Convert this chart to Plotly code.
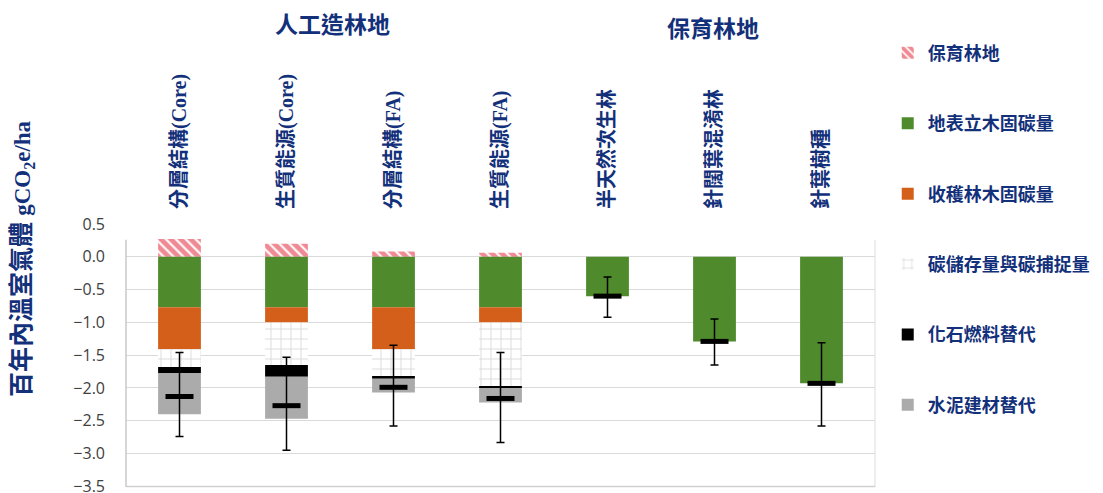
import plotly.graph_objects as go

categories = ["分層結構(Core)", "生質能源(Core)", "分層結構(FA)", "生質能源(FA)",
              "半天然次生林", "針闊葉混淆林", "針葉樹種"]
series_names = ["保育林地", "地表立木固碳量", "收穫林木固碳量", "碳儲存量與碳捕捉量",
                "化石燃料替代", "水泥建材替代"]
conservation = [0.27, 0.20, 0.08, 0.06, 0, 0, 0]
standing = [-0.77, -0.77, -0.77, -0.77, -0.60, -1.29, -1.93]
harvested = [-0.64, -0.23, -0.64, -0.23, 0, 0, 0]
storage = [-0.27, -0.65, -0.42, -0.98, 0, 0, 0]
fossil = [-0.09, -0.18, -0.03, -0.02, 0, 0, 0]
cement = [-0.63, -0.64, -0.21, -0.22, 0, 0, 0]
err_top = [-1.46, -1.53, -1.35, -1.46, -0.31, -0.95, -1.31]
err_bottom = [-2.74, -2.95, -2.58, -2.83, -0.92, -1.65, -2.58]
y_ticks = [0.5, 0.0, -0.5, -1.0, -1.5, -2.0, -2.5, -3.0, -3.5]
group_titles = ["人工造林地", "保育林地"]

NAVY = "#13307A"
CJK = "Liberation Serif, Noto Sans CJK TC"

series_values = [conservation, standing, harvested, storage, fossil, cement]
styles = [
    dict(color="white", pattern=dict(shape="\\", fgcolor="#E01428", bgcolor="white", size=7, solidity=0.7)),
    dict(color="#4F8B2C"),
    dict(color="#D45F1A"),
    dict(color="white", pattern=dict(shape="+", fgcolor="#A8A8A8", bgcolor="white", size=10, solidity=0.15)),
    dict(color="#000000"),
    dict(color="#ABABAB"),
]

fig = go.Figure()
for i, (name, vals, st) in enumerate(zip(series_names, series_values, styles)):
    fig.add_trace(go.Bar(
        x=categories, y=vals, name=name, width=0.4,
        marker=dict(line=dict(width=0), **st),
        legendgroup=f"g{i}",
    ))

net = [sum(v[j] for v in series_values) for j in range(len(categories))]
plus = [t - n for t, n in zip(err_top, net)]
minus = [n - b for n, b in zip(net, err_bottom)]
fig.add_trace(go.Scatter(
    x=categories, y=net, mode="markers", showlegend=False,
    marker=dict(symbol="line-ew", size=20, color="black", line=dict(width=5, color="black")),
    error_y=dict(type="data", symmetric=False, array=plus, arrayminus=minus,
                 color="black", thickness=1.5, width=4),
))

fig.update_layout(
    width=1103, height=493,
    margin=dict(l=126, r=228, t=224, b=6),
    barmode="relative",
    plot_bgcolor="white", paper_bgcolor="white",
    showlegend=True,
    legend=dict(x=1.017, y=1.72, xanchor="left", yanchor="top",
                tracegroupgap=44, traceorder="grouped", maxheight=480,
                font=dict(family=CJK, size=18, color=NAVY, weight="bold"),
                bgcolor="rgba(0,0,0,0)"),
    xaxis=dict(side="top", tickangle=-90, showgrid=False, zeroline=False, showline=False,
               ticks="", ticklabelstandoff=14, automargin=False,
               tickfont=dict(family=CJK, size=20, color=NAVY, weight="bold")),
    yaxis=dict(range=[-3.51, 0.5], tickvals=y_ticks, tickformat=".1f",
               showgrid=True, gridcolor="#DADADA", gridwidth=1,
               zeroline=False, showline=False, ticks="", ticklabelstandoff=20,
               ticklabeloverflow="allow", automargin=False,
               tickfont=dict(family="Open Sans, Liberation Sans", size=16, color="#404040")),
)

# frame lines
fig.add_shape(type="line", xref="paper", yref="y", x0=0, x1=0, y0=-3.51, y1=0.26,
              line=dict(color="#C8C8C8", width=1.5))
fig.add_shape(type="line", xref="paper", yref="y", x0=1, x1=1, y0=-3.51, y1=0.26,
              line=dict(color="#DDDDDD", width=1))
fig.add_shape(type="line", xref="paper", yref="paper", x0=0, x1=1, y0=0.002, y1=0.002,
              line=dict(color="#D0D0D0", width=1.5))

fig.add_annotation(text=group_titles[0], xref="paper", yref="paper", x=0.276, y=1.755,
                   xanchor="center", yanchor="middle", showarrow=False,
                   font=dict(family=CJK, size=23, color=NAVY, weight="bold"))
fig.add_annotation(text=group_titles[1], xref="paper", yref="paper", x=0.784, y=1.74,
                   xanchor="center", yanchor="middle", showarrow=False,
                   font=dict(family=CJK, size=23, color=NAVY, weight="bold"))
fig.add_annotation(text="百年內溫室氣體 <span style='font-size:23px'>gCO<sub>2</sub>e/ha</span>",
                   xref="paper", yref="paper",
                   x=-0.139, y=0.87, xanchor="center", yanchor="middle",
                   textangle=-90, showarrow=False,
                   font=dict(family=CJK, size=25, color=NAVY, weight="bold"))

fig.write_html("out.html", config={"displayModeBar": False},
               post_script="document.body.style.margin='0px';")
